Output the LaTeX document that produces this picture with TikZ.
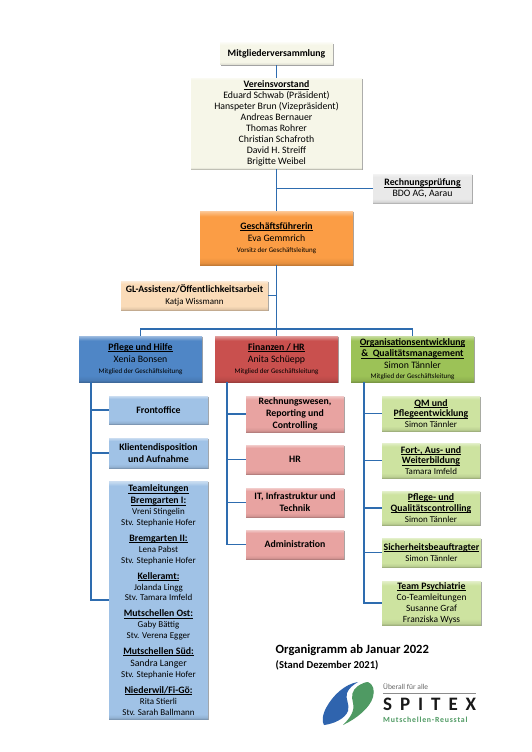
\documentclass[tikz,border=0pt]{standalone}
\usepackage{fontspec}
\setmainfont{Carlito}
\usetikzlibrary{shadows,calc}
\newcommand\mkgloss[2]{%
  \definecolor{#1c}{HTML}{#2}%
  \pgfdeclareverticalshading{#1g}{100bp}{color(0bp)=(#1c!78!black); color(25bp)=(#1c!78!black); color(27bp)=(#1c!92!black); color(32bp)=(#1c); color(70bp)=(#1c); color(73.5bp)=(#1c!70!white); color(75bp)=(#1c!55!white); color(100bp)=(#1c!55!white)}%
  \pgfdeclareverticalshading{#1t}{100bp}{color(0bp)=(#1c!78!black); color(25bp)=(#1c!78!black); color(25.3bp)=(#1c!92!black); color(26bp)=(#1c); color(74bp)=(#1c); color(74.6bp)=(#1c!70!white); color(75bp)=(#1c!55!white); color(100bp)=(#1c!55!white)}%
}
\mkgloss{cream}{F6F6E8}
\mkgloss{grayb}{E9E9E9}
\mkgloss{orange}{FB9D45}
\mkgloss{peach}{FADBB8}
\mkgloss{blue}{4F86C6}
\mkgloss{red}{C9504E}
\mkgloss{green}{9CC257}
\mkgloss{lblue}{A0C2E6}
\mkgloss{lred}{E8A3A1}
\mkgloss{lgreen}{CDE3A0}
\definecolor{conn}{HTML}{2E6CAF}
\definecolor{logoblue}{HTML}{2F64AE}
\definecolor{logogreen}{HTML}{4F9A63}
\tikzset{
  gbox/.style={inner sep=0pt,align=center,anchor=center,text=black,
    font=\fontsize{9.8}{10.9}\selectfont,
    general shadow={fill=black!65,shadow xshift=0.9pt,shadow yshift=-1.1pt,opacity=.55}},
  conline/.style={draw=conn,line width=1.4pt},
}
\newsavebox\hhbox
\newcommand\hh[1]{\sbox\hhbox{\textbf{#1}}\rlap{\rule[-1.5pt]{\wd\hhbox}{0.6pt}}\usebox\hhbox}
\newcommand\sm[1]{{\fontsize{7}{9}\selectfont #1}}
\newcommand\nm[1]{{\fontsize{9}{10}\selectfont #1}}
% name x1 y1 x2 y2 shading text
\newcommand\bx[7]{%
  \node[gbox,shading=#6,minimum width={(#4-#2)*1pt},minimum height={(#5-#3)*1pt}] (#1) at ({(#2+#4)/2},{(#3+#5)/2}) {#7};}
\begin{document}
\begin{tikzpicture}[x=1pt,y=-1pt]
\useasboundingbox (0,0) rectangle (532,752);
\fill[white] (0,0) rectangle (532,752);
% boxes
\bx{mv}{220}{43}{333}{65}{creamg}{\textbf{Mitgliederversammlung}}
\bx{vv}{191}{78}{362}{169}{creamt}{\hh{Vereinsvorstand}\\Eduard Schwab (Präsident)\\Hanspeter Brun (Vizepräsident)\\Andreas Bernauer\\Thomas Rohrer\\Christian Schafroth\\David H. Streiff\\Brigitte Weibel}
\bx{rp}{373}{174}{472}{203}{graybg}{\hh{Rechnungsprüfung}\\BDO AG, Aarau}
\bx{gf}{200}{211}{353}{265}{orangeg}{\hh{Geschäftsführerin}\\[1.5pt]Eva Gemmrich\\[-0.5pt]\sm{Vorsitz der Geschäftsleitung}}
\bx{gl}{121}{281}{268}{310}{peachg}{\textbf{GL-Assistenz/Öffentlichkeitsarbeit}\\[1pt]{\fontsize{9}{10}\selectfont Katja Wissmann}}
\bx{pf}{79}{336}{202}{382}{blueg}{\hh{Pflege und Hilfe}\\[1.5pt]Xenia Bonsen\\[-0.5pt]\sm{Mitglied der Geschäftsleitung}}
\bx{fi}{215}{336}{338}{382}{redg}{\hh{Finanzen / HR}\\[1.5pt]Anita Schüepp\\[-0.5pt]\sm{Mitglied der Geschäftsleitung}}
\bx{og}{351}{336}{474}{382}{greeng}{\hh{Organisationsentwicklung}\\[0.5pt]\hh{\&\ \ Qualitätsmanagement}\\[0.5pt]Simon Tännler\\[-0.5pt]\sm{Mitglied der Geschäftsleitung}}
\bx{fo}{109}{396}{208}{424}{lblueg}{\textbf{Frontoffice}}
\bx{kl}{109}{438}{208}{468}{lblueg}{\textbf{Klientendisposition}\\[1pt]\textbf{und Aufnahme}}
\bx{tl}{109}{481}{208}{719}{lbluet}{\hh{Teamleitungen}\\[1pt]\hh{Bremgarten I:}\\\nm{Vreni Stingelin}\\\nm{Stv. Stephanie Hofer}\\[5pt]\hh{Bremgarten II:}\\\nm{Lena Pabst}\\\nm{Stv. Stephanie Hofer}\\[5pt]\hh{Kelleramt:}\\\nm{Jolanda Lingg}\\\nm{Stv. Tamara Imfeld}\\[5pt]\hh{Mutschellen Ost:}\\\nm{Gaby Bättig}\\\nm{Stv. Verena Egger}\\[5pt]\hh{Mutschellen Süd:}\\[1pt]Sandra Langer\\\nm{Stv. Stephanie Hofer}\\[5pt]\hh{Niederwil/Fi-Gö:}\\\nm{Rita Stierli}\\\nm{Stv. Sarah Ballmann}}
\bx{rw}{246}{396}{344}{432}{lredg}{\textbf{Rechnungswesen,}\\[1pt]\textbf{Reporting und}\\[1pt]\textbf{Controlling}}
\bx{hr}{246}{445}{344}{474}{lredg}{\textbf{HR}}
\bx{it}{246}{488}{344}{517}{lredg}{\textbf{IT, Infrastruktur und}\\[1pt]\textbf{Technik}}
\bx{ad}{246}{530}{344}{559}{lredg}{\textbf{Administration}}
\bx{qm}{382}{396}{480}{431}{lgreeng}{\hh{QM und}\\\hh{Pflegeentwicklung}\\\nm{Simon Tännler}}
\bx{fa}{382}{443}{480}{478}{lgreeng}{\hh{Fort-, Aus- und}\\\hh{Weiterbildung}\\\nm{Tamara Imfeld}}
\bx{pq}{382}{491}{480}{525}{lgreeng}{\hh{Pflege- und}\\\hh{Qualitätscontrolling}\\\nm{Simon Tännler}}
\bx{si}{382}{538}{481}{567}{lgreeng}{\hh{Sicherheitsbeauftragter}\\\nm{Simon Tännler}}
\bx{tp}{382}{581}{481}{625}{lgreeng}{\hh{Team Psychiatrie}\\{\fontsize{9.5}{10}\selectfont Co-Teamleitungen}\\{\fontsize{9.5}{10}\selectfont Susanne Graf}\\{\fontsize{9.5}{10}\selectfont Franziska Wyss}}
% connector points
\coordinate (bus) at (276.5,329);
\coordinate (pfT) at (91,382);
\coordinate (fiT) at (227,382);
\coordinate (ogT) at (364,382);
% connectors
\draw[conline] (mv) -- (vv);
\draw[conline] (vv) -- (gf);
\draw[conline] (gf) -- (fi);
\draw[conline] (rp.west) -- (rp.west -| vv);
\draw[conline] (gl.east) -- (gl.east -| gf);
\draw[conline] (pf.north) |- (bus) -| (og.north);
\draw[conline] (pfT) |- (tl.west);
\draw[conline] (fo.west) -- (fo.west -| pfT);
\draw[conline] (kl.west) -- (kl.west -| pfT);
\draw[conline] (fiT) |- (ad.west);
\draw[conline] (rw.west) -- (rw.west -| fiT);
\draw[conline] (hr.west) -- (hr.west -| fiT);
\draw[conline] (it.west) -- (it.west -| fiT);
\draw[conline] (ogT) |- (tp.west);
\draw[conline] (qm.west) -- (qm.west -| ogT);
\draw[conline] (fa.west) -- (fa.west -| ogT);
\draw[conline] (pq.west) -- (pq.west -| ogT);
\draw[conline] (si.west) -- (si.west -| ogT);
% title
\node[anchor=west,inner sep=0pt,font=\fontsize{12.6}{14}\selectfont\bfseries] (t1) at (275.5,650) {Organigramm ab Januar 2022};
\node[anchor=west,inner sep=0pt,font=\fontsize{10.6}{12}\selectfont\bfseries] (t2) at (275.5,665) {(Stand Dezember 2021)};
% logo
\fill[logoblue] (358,682) .. controls (345,684) and (333,695) .. (326,708) .. controls (322,716) and (322,722) .. (324,725) .. controls (333,724) and (345,719) .. (348,711) .. controls (350,704) and (345,699) .. (347,693) .. controls (349,688) and (353,685) .. (358,682) -- cycle;
\fill[logogreen] (368,682) .. controls (373,684) and (375,690) .. (373,697) .. controls (370,708) and (356,719) .. (343,725) .. controls (350,718) and (355,711) .. (353,703) .. controls (351,696) and (352,690) .. (358,686) .. controls (361,684) and (365,682) .. (368,682) -- cycle;
\node[anchor=west,inner sep=0pt,text=black!60,font=\fontsize{7.5}{8}\selectfont] (lg1) at (383,687) {Überall für alle};
\coordinate (lr1) at (383,693.5);
\coordinate (lr2) at (476,693.5);
\draw[black!45,line width=.5pt] (lr1) -- (lr2);
\node[anchor=west,inner sep=0pt,text=black!90,font=\fontsize{19}{20}\selectfont\bfseries] (lg2) at (383,704.5) {\hbox to 93pt{S\hfill P\hfill I\hfill T\hfill E\hfill X}};
\node[anchor=west,inner sep=0pt,text=logogreen,font=\fontsize{7.8}{9}\selectfont\bfseries] (lg3) at (383,719.5) {\addfontfeature{LetterSpace=10}Mutschellen-Reusstal};
\end{tikzpicture}
\end{document}
